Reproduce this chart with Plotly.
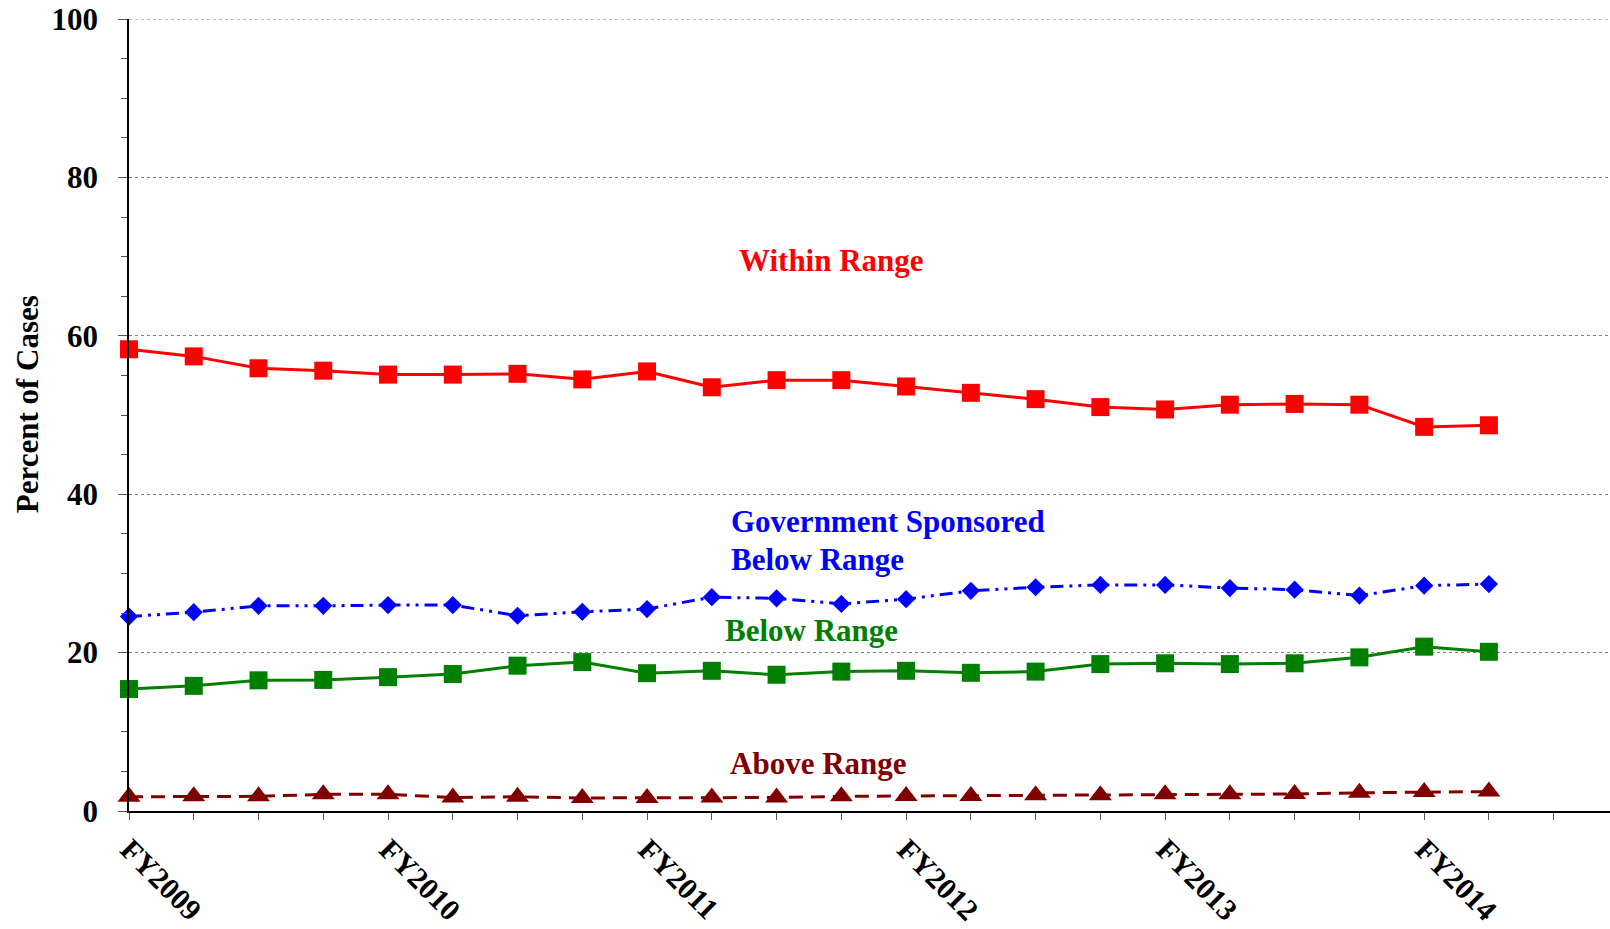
import plotly.graph_objects as go

# Fiscal quarters (FY2009 Q1 .. FY2014 Q2)
quarters = ["FY2009 Q1", "FY2009 Q2", "FY2009 Q3", "FY2009 Q4",
            "FY2010 Q1", "FY2010 Q2", "FY2010 Q3", "FY2010 Q4",
            "FY2011 Q1", "FY2011 Q2", "FY2011 Q3", "FY2011 Q4",
            "FY2012 Q1", "FY2012 Q2", "FY2012 Q3", "FY2012 Q4",
            "FY2013 Q1", "FY2013 Q2", "FY2013 Q3", "FY2013 Q4",
            "FY2014 Q1", "FY2014 Q2"]

within_range = [58.3, 57.4, 55.9, 55.6, 55.1, 55.1, 55.2, 54.5, 55.5, 53.5, 54.4,
                54.4, 53.6, 52.8, 52.0, 51.0, 50.7, 51.3, 51.4, 51.3, 48.5, 48.7]
gov_below_range = [24.55, 25.1, 25.9, 25.9, 26.0, 26.0, 24.65, 25.15, 25.5, 27.0, 26.85,
                   26.15, 26.75, 27.8, 28.25, 28.55, 28.55, 28.15, 27.95, 27.2, 28.45, 28.65]
below_range = [15.4, 15.8, 16.5, 16.55, 16.9, 17.3, 18.35, 18.8, 17.4, 17.7, 17.2,
               17.6, 17.7, 17.45, 17.6, 18.55, 18.65, 18.55, 18.65, 19.4, 20.75, 20.1]
above_range = [1.8, 1.85, 1.85, 2.1, 2.1, 1.7, 1.8, 1.65, 1.65, 1.7, 1.7,
               1.85, 1.9, 1.9, 2.0, 2.0, 2.1, 2.1, 2.15, 2.3, 2.4, 2.45]

year_labels = ["FY2009", "FY2010", "FY2011", "FY2012", "FY2013", "FY2014"]

x = list(range(len(quarters)))
n_ticks = len(quarters) + 1
tickvals = list(range(n_ticks))
ticktext = [year_labels[i // 4] if (i % 4 == 0 and i // 4 < len(year_labels)) else "" for i in tickvals]

FONT = "Liberation Serif, Times New Roman, serif"
FS = 31
Y_MAX = 100

fig = go.Figure()

fig.add_trace(go.Scatter(
    x=x, y=within_range, mode="lines+markers", name="Within Range",
    line=dict(color="#FF0000", width=3),
    marker=dict(symbol="square", size=18, color="#FF0000"),
    cliponaxis=False, customdata=quarters))
fig.add_trace(go.Scatter(
    x=x, y=gov_below_range, mode="lines+markers", name="Government Sponsored Below Range",
    line=dict(color="#0000FF", width=3, dash="13px,6px,3px,6px,3px,6px"),
    marker=dict(symbol="diamond", size=14, color="#0000FF"),
    cliponaxis=False, customdata=quarters))
fig.add_trace(go.Scatter(
    x=x, y=below_range, mode="lines+markers", name="Below Range",
    line=dict(color="#008000", width=3),
    marker=dict(symbol="square", size=18, color="#008000"),
    cliponaxis=False, customdata=quarters))
fig.add_trace(go.Scatter(
    x=x, y=above_range, mode="lines+markers", name="Above Range",
    line=dict(color="#800000", width=3, dash="14px,8px"),
    marker=dict(symbol="triangle-up", size=20, color="#800000"),
    cliponaxis=False, customdata=quarters))

def ann(text, xv, yv, color):
    fig.add_annotation(text=text, x=xv, y=yv, xref="x", yref="y",
                       xanchor="left", yanchor="middle", showarrow=False,
                       font=dict(family=FONT, size=FS, color=color, weight="bold"))

ann("Within Range", 9.39, 69.5, "#FF0000")
ann("Government Sponsored", 9.26, 36.6, "#0000FF")
ann("Below Range", 9.26, 31.8, "#0000FF")
ann("Below Range", 9.17, 22.8, "#008000")
ann("Above Range", 9.25, 6.0, "#800000")

fig.add_annotation(text="Percent of Cases", xref="paper", yref="paper",
                   x=-0.0685, y=0.513, xanchor="center", yanchor="middle",
                   textangle=-90, showarrow=False,
                   font=dict(family=FONT, size=FS, color="black", weight="bold"))

# top gridline (plotly skips the gridline on the range edge)
fig.add_shape(type="line", xref="paper", yref="y", x0=0, x1=1, y0=Y_MAX, y1=Y_MAX,
              line=dict(color="#808080", width=1, dash="dot"), layer="below")

fig.update_layout(
    width=1610, height=929,
    margin=dict(l=129, r=0, t=19, b=118, autoexpand=False),
    paper_bgcolor="white", plot_bgcolor="white",
    showlegend=False,
    font=dict(family=FONT, size=FS, color="black"),
    xaxis=dict(
        range=[0, 22.87], tickmode="array", tickvals=tickvals, ticktext=ticktext,
        tickangle=45, ticks="outside", ticklen=7, tickwidth=1, tickcolor="#555555",
        tickfont=dict(family=FONT, size=30, color="black", weight="bold"),
        showgrid=False, zeroline=False, automargin=False,
        ticklabeloverflow="allow",
        showline=True, linecolor="black", linewidth=2),
    yaxis=dict(
        range=[0, Y_MAX], tickmode="linear", tick0=0, dtick=20,
        ticks="outside", ticklen=9, tickwidth=1, tickcolor="#555555",
        ticklabelstandoff=14, automargin=False, ticklabeloverflow="allow",
        tickfont=dict(family=FONT, size=FS, color="black", weight="bold"),
        showgrid=True, gridcolor="#808080", griddash="dot", gridwidth=1,
        zeroline=False, showline=True, linecolor="black", linewidth=1.5,
        minor=dict(dtick=5, tick0=0, ticks="outside", ticklen=6, tickcolor="#555555",
                   showgrid=False)),
)

# remove the browser's default 8px body margin so the figure fills the window
fig.write_html("out.html",
               config={"displayModeBar": False},
               post_script="document.body.style.margin='0';document.body.style.overflow='hidden';")
